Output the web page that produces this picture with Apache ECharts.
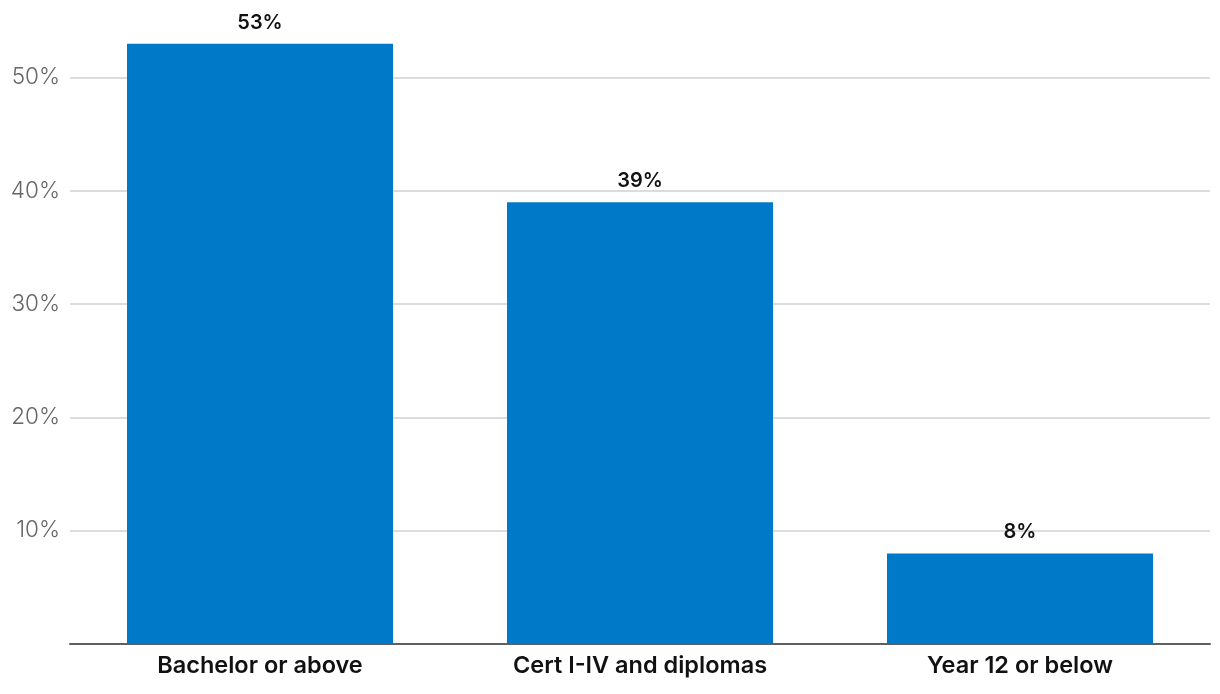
<!DOCTYPE html>
<html><head><meta charset="utf-8">
<script src="https://cdn.jsdelivr.net/npm/echarts@6/dist/echarts.min.js"></script>
<style>html,body{margin:0;padding:0;background:#fff}#c{width:1220px;height:694px}</style>
</head><body><div id="c"></div>
<script>
const categories = ["Bachelor or above", "Cert I-IV and diplomas", "Year 12 or below"];
const values = [53, 39, 8];
const yTicks = [0, 10, 20, 30, 40, 50];

const chart = echarts.init(document.getElementById('c'), null, {renderer: 'canvas'});
chart.setOption({
  animation: false,
  grid: {left: 70, right: 10, top: 21, bottom: 50, containLabel: false},
  xAxis: {
    type: 'category', data: categories,
    axisLine: {lineStyle: {color: '#5f5f5f', width: 2}},
    axisTick: {show: false},
    axisLabel: {color: '#111', fontSize: 23.5, fontWeight: 600, fontFamily: 'Inter, "Noto Sans", sans-serif', margin: 10}
  },
  yAxis: {
    type: 'value', min: 0, max: 55, interval: 10,
    axisLine: {show: false}, axisTick: {show: false},
    splitLine: {show: true, showMinLine: false, showMaxLine: false, lineStyle: {color: '#dcdcdc', width: 2}},
    axisLabel: {
      showMinLabel: false, showMaxLabel: false,
      color: '#666', fontSize: 22.5, fontFamily: 'Inter, "Noto Sans", sans-serif', fontWeight: 300, margin: 10,
      formatter: v => yTicks.includes(v) && v > 0 ? v + '%' : ''
    }
  },
  series: [{
    type: 'bar', data: values, barWidth: '70%',
    itemStyle: {color: '#0079c8'},
    label: {show: true, position: 'top', distance: 11, formatter: p => p.value + '%', color: '#111', fontSize: 20, fontWeight: 600, fontFamily: 'Inter, "Noto Sans", sans-serif'}
  }]
});
</script></body></html>
